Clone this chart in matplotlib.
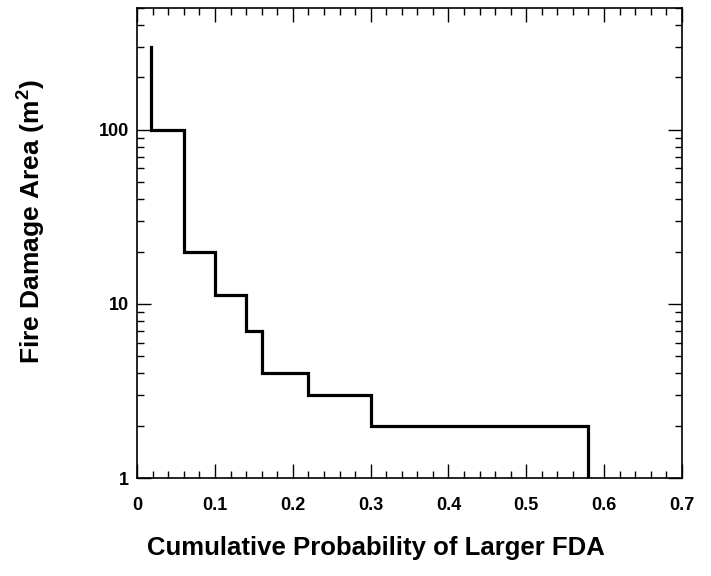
import numpy as np
import matplotlib.pyplot as plt
from matplotlib.ticker import MultipleLocator, FixedLocator, FixedFormatter, LogLocator, NullFormatter

plt.rcParams["font.family"] = ["Liberation Sans", "DejaVu Sans"]
plt.rcParams["font.weight"] = "bold"
plt.rcParams["mathtext.fontset"] = "custom"
plt.rcParams["mathtext.rm"] = "Liberation Sans:bold"
plt.rcParams["mathtext.bf"] = "Liberation Sans:bold"

# step curve: cumulative probability of larger fire damage area
prob = [0.018, 0.018, 0.06, 0.06, 0.10, 0.10, 0.14, 0.14, 0.16, 0.16, 0.22, 0.22, 0.30, 0.30, 0.58, 0.58]
area = [300, 100, 100, 20, 20, 11.2, 11.2, 7, 7, 4, 4, 3, 3, 2, 2, 1]

x_ticks = [0, 0.1, 0.2, 0.3, 0.4, 0.5, 0.6, 0.7]
x_labels = ["0", "0.1", "0.2", "0.3", "0.4", "0.5", "0.6", "0.7"]
y_ticks = [1, 10, 100]
y_labels = ["1", "10", "100"]

fig = plt.figure(figsize=(7.11, 5.76), dpi=100)
ax = fig.add_axes([0.193, 0.170, 0.766, 0.816])

ax.plot(prob, area, color="black", lw=2.3, solid_joinstyle="miter")

ax.set_yscale("log")
ax.set_xlim(0, 0.7)
ax.set_ylim(1, 500)

ax.xaxis.set_major_locator(FixedLocator(x_ticks))
ax.xaxis.set_major_formatter(FixedFormatter(x_labels))
ax.xaxis.set_minor_locator(MultipleLocator(0.02))
ax.yaxis.set_major_locator(FixedLocator(y_ticks))
ax.yaxis.set_major_formatter(FixedFormatter(y_labels))
ax.yaxis.set_minor_locator(LogLocator(base=10, subs=np.arange(2, 10)))
ax.yaxis.set_minor_formatter(NullFormatter())

ax.tick_params(which="both", direction="in", top=True, right=True, width=1.0,
               labelsize=13)
ax.tick_params(which="major", length=10)
ax.tick_params(which="minor", length=5)
ax.tick_params(axis="x", which="major", pad=13.5)
ax.tick_params(axis="y", which="major", pad=6)
for s in ax.spines.values():
    s.set_linewidth(1.2)

ax.set_xlabel("Cumulative Probability of Larger FDA", fontsize=18.5,
              fontweight="bold")
ax.set_ylabel("Fire Damage Area (m$^{2}$)", fontsize=19, fontweight="bold")
ax.xaxis.set_label_coords(0.4385, -0.123)
ax.yaxis.set_label_coords(-0.165, 0.545)

fig.savefig("out.png", dpi=100)
